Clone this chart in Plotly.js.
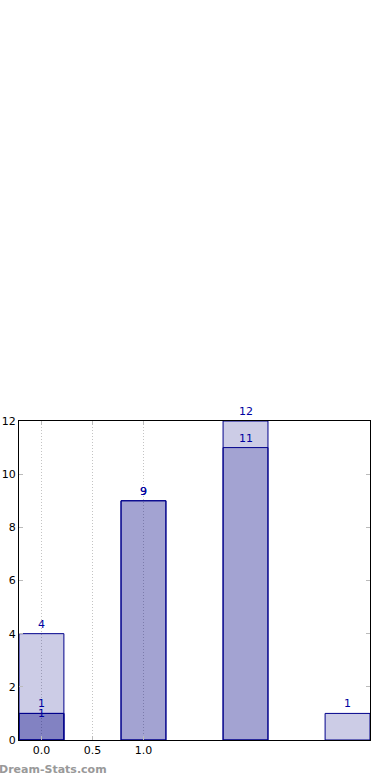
<!DOCTYPE html>
<html><head><meta charset="utf-8">
<script src="https://cdn.plot.ly/plotly-3.0.1.min.js"></script>
<style>body{margin:0;padding:0;background:#fff}#chart{width:390px;height:780px}</style>
</head><body><div id="chart"></div>
<script>
const categories = [0, 1, 2, 3];
const seriesA = [4, 9, 12, 1];
const seriesB = [1, 9, 11, null];
const seriesC = [1, null, null, null];
const xTickVals = [0, 0.5, 1.0];
const xTickText = ['0.0', '0.5', '1.0'];
const yTickVals = [0, 2, 4, 6, 8, 10, 12];

const fill = 'rgba(0,0,128,0.2)';
const edge = '#00008b';
const labelColor = '#0000a0';

function barTrace(vals) {
  return {type: 'bar', x: categories, y: vals, width: 0.44,
    marker: {color: fill, line: {color: edge, width: 1}},
    hoverinfo: 'none', showlegend: false};
}
const traces = [barTrace(seriesA), barTrace(seriesB), barTrace(seriesC)];

const annotations = [];
function addLabels(vals, shift, anchor) {
  vals.forEach((v, i) => {
    if (v === null) return;
    annotations.push({x: categories[i], y: v, text: String(v), showarrow: false,
      yanchor: anchor, yshift: shift, font: {family: 'DejaVu Sans', size: 11, color: labelColor}});
  });
}
addLabels(seriesA, 1, 'bottom');
addLabels(seriesB, 1, 'bottom');
addLabels(seriesC, 0, 'middle');
annotations.push({xref: 'paper', yref: 'paper', x: -0.062, y: -0.094, xanchor: 'left', yanchor: 'middle',
  text: '<b>Dream-Stats.com</b>', showarrow: false, font: {family: 'DejaVu Sans', size: 11, color: '#999999'}});

const layout = {
  width: 390, height: 780,
  margin: {l: 19, r: 20, t: 421, b: 40},
  paper_bgcolor: '#fff', plot_bgcolor: '#fff',
  barmode: 'overlay',
  font: {family: 'DejaVu Sans', size: 11, color: '#000'},
  xaxis: {range: [-0.22, 3.22], tickvals: xTickVals, ticktext: xTickText,
    showgrid: true, gridcolor: '#c4c4c4', griddash: '1px,2px', gridwidth: 1,
    zeroline: false, showline: true, linecolor: '#000', linewidth: 1, mirror: 'ticks',
    ticks: 'inside', ticklen: 4, tickcolor: '#bbbbbb', tickfont: {size: 11}},
  yaxis: {range: [0, 12], tickvals: yTickVals, showgrid: false, zeroline: false,
    showline: true, linecolor: '#000', linewidth: 1, mirror: 'ticks',
    ticks: 'inside', ticklen: 4, tickcolor: '#bbbbbb', tickfont: {size: 11}},
  annotations: annotations
};
Plotly.newPlot('chart', traces, layout, {displayModeBar: false, staticPlot: true});
</script></body></html>
